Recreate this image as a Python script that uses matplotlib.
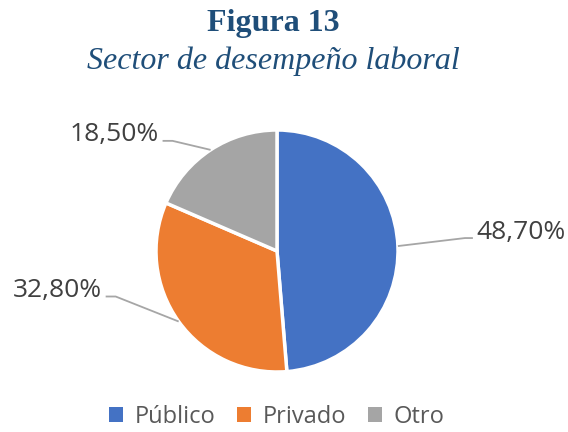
import numpy as np
import matplotlib.pyplot as plt
from matplotlib.patches import Patch

categories = ['Público', 'Privado', 'Otro']
values = [48.70, 32.80, 18.50]
labels = ['48,70%', '32,80%', '18,50%']
colors = ['#4472C4', '#ED7D31', '#A5A5A5']

W, H = 568, 432
fig = plt.figure(figsize=(W / 100, H / 100), dpi=100)
ax = fig.add_axes([0, 0, 1, 1])

# pie center / radius in pixel units
cx, cy, r = 277, H - 251, 121

wedges, _ = ax.pie(values, colors=colors, startangle=90, counterclock=False,
                   center=(cx, cy), radius=r, frame=True,
                   wedgeprops=dict(edgecolor='white', linewidth=2.5))
ax.set_xlim(0, W)
ax.set_ylim(0, H)
ax.set_aspect('equal')
ax.axis('off')

# leader lines: elbow offset (dx, dy) from edge point, then short horizontal
elbow = [(67, 8), (-63, 25), (-38, 9)]
tail = [8, -10, -10]
for w, lab, (ex, ey), tl in zip(wedges, labels, elbow, tail):
    ang = np.deg2rad((w.theta1 + w.theta2) / 2)
    x0, y0 = cx + r * np.cos(ang), cy + r * np.sin(ang)
    x1, y1 = x0 + ex, y0 + ey
    x2 = x1 + tl
    ax.plot([x0, x1, x2], [y0, y1, y1], color='#A6A6A6', lw=1.3,
            solid_capstyle='butt')
    ha = 'left' if tl > 0 else 'right'
    ax.text(x2 + (3 if tl > 0 else -4), y1 + 6, lab, ha=ha, va='center',
            fontsize=19, color='#404040', family='Open Sans')

fig.text(273 / W, 1 - 24 / H, 'Figura 13', ha='center', va='center',
         fontsize=23, fontweight='bold', color='#1F4E79',
         family='Liberation Serif')
fig.text(273 / W, 1 - 61 / H, 'Sector de desempeño laboral', ha='center',
         va='center', fontsize=23, style='italic', color='#1F4E79',
         family='Liberation Serif')

handles = [Patch(facecolor=c, edgecolor='none') for c in colors]
fig.legend(handles, categories, loc='center', bbox_to_anchor=(277 / W, 1 - 417 / H),
           ncol=3, frameon=False, handlelength=0.6, handleheight=0.6,
           handletextpad=0.5, columnspacing=0.9,
           prop={'family': 'Open Sans', 'size': 17}, labelcolor='#595959')

fig.savefig('out.png', dpi=100)
